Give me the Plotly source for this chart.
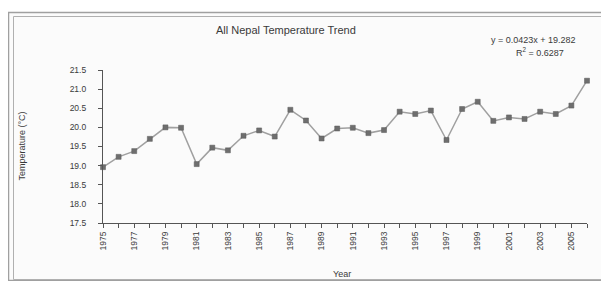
import plotly.graph_objects as go

years = list(range(1975, 2007))
temps = [18.96, 19.23, 19.38, 19.70, 20.00, 19.99, 19.04, 19.47, 19.40, 19.78,
         19.92, 19.76, 20.46, 20.18, 19.71, 19.97, 19.99, 19.85, 19.93, 20.41,
         20.35, 20.44, 19.67, 20.48, 20.67, 20.17, 20.26, 20.22, 20.41, 20.35,
         20.57, 21.22]
x_tick_vals = [1975, 1977, 1979, 1981, 1983, 1985, 1987, 1989, 1991, 1993,
               1995, 1997, 1999, 2001, 2003, 2005]
x_tick_text = [str(y) for y in x_tick_vals]
y_tick_vals = [17.5, 18.0, 18.5, 19.0, 19.5, 20.0, 20.5, 21.0, 21.5]

title_text = "All Nepal Temperature Trend"
eq_text = "y = 0.0423x + 19.282"
r2_text = "R<sup>2</sup> = 0.6287"

# page body has an 8px default margin, so the figure is 8px smaller
OFF = 8
W, H = 609 - OFF, 281 - OFF
L, R, T, B = 103, 587, 70, 223  # plot area in reference pixels


def px(x):
    return (x - L) / (R - L)


def py(y):
    return (B - y) / (B - T)


FONT = "Liberation Sans, Arial, sans-serif"
TXT = "#3a3a3a"

fig = go.Figure()
fig.add_trace(go.Scatter(
    x=years, y=temps, mode="lines+markers",
    line=dict(color="#a0a0a0", width=1.5),
    marker=dict(symbol="square", size=5, color="#6e6e6e",
                line=dict(color="#5a5a5a", width=0.5)),
    showlegend=False, cliponaxis=False,
))

shapes = [
    dict(type="rect", xref="paper", yref="paper",
         x0=px(8.5), x1=px(606), y0=py(280.5), y1=py(12.5),
         line=dict(color="#a0a0a0", width=1.5), fillcolor="#fbfbfb", layer="below"),
    dict(type="rect", xref="paper", yref="paper",
         x0=px(13.5), x1=px(603.5), y0=py(279.5), y1=py(16.5),
         line=dict(color="#b0b0b0", width=1), fillcolor="rgba(0,0,0,0)", layer="below"),
    dict(type="line", xref="paper", yref="paper",
         x0=px(606), x1=px(606), y0=py(281), y1=py(12.5),
         line=dict(color="#555555", width=2), layer="below"),
]

annotations = [
    dict(text=title_text, x=px(285.5), y=py(30), xref="paper", yref="paper",
         showarrow=False, font=dict(family=FONT, size=11, color=TXT),
         xanchor="center", yanchor="middle"),
    dict(text=eq_text, x=px(533.5), y=py(40), xref="paper", yref="paper",
         showarrow=False, font=dict(family=FONT, size=9, color=TXT),
         xanchor="center", yanchor="middle"),
    dict(text=r2_text, x=px(540), y=py(52), xref="paper", yref="paper",
         showarrow=False, font=dict(family=FONT, size=9, color=TXT),
         xanchor="center", yanchor="middle"),
    dict(text="Temperature (°C)", x=px(21.5), y=py(146), xref="paper", yref="paper",
         showarrow=False, textangle=-90, font=dict(family=FONT, size=9, color=TXT),
         xanchor="center", yanchor="middle"),
    dict(text="Year", x=px(342), y=py(274), xref="paper", yref="paper",
         showarrow=False, font=dict(family=FONT, size=9, color=TXT),
         xanchor="center", yanchor="middle"),
]

fig.update_layout(
    width=W, height=H,
    margin=dict(l=L - OFF, r=W - (R - OFF), t=T - OFF, b=H - (B - OFF), pad=0),
    paper_bgcolor="white", plot_bgcolor="rgba(0,0,0,0)",
    shapes=shapes, annotations=annotations,
    font=dict(family=FONT, size=8.5, color=TXT),
    xaxis=dict(range=[1975, 2006], tickmode="array", tickvals=x_tick_vals,
               ticktext=x_tick_text, tickangle=-90, ticks="outside", ticklen=4,
               tickcolor="#555555", showline=True, linecolor="#555555", linewidth=1.2,
               showgrid=False, zeroline=False, tickfont=dict(size=8.5, color=TXT),
               minor=dict(ticks="outside", ticklen=4, tick0=1975, dtick=1,
                          tickcolor="#555555", showgrid=False)),
    yaxis=dict(range=[17.5, 21.5], tickmode="array", tickvals=y_tick_vals,
               tickformat=".1f", ticks="outside", ticklen=4, tickcolor="#555555",
               showline=True, linecolor="#555555", linewidth=1.2, showgrid=False,
               zeroline=False, ticklabelstandoff=10, tickfont=dict(size=8.5, color=TXT)),
)

fig.write_html("out.html")
